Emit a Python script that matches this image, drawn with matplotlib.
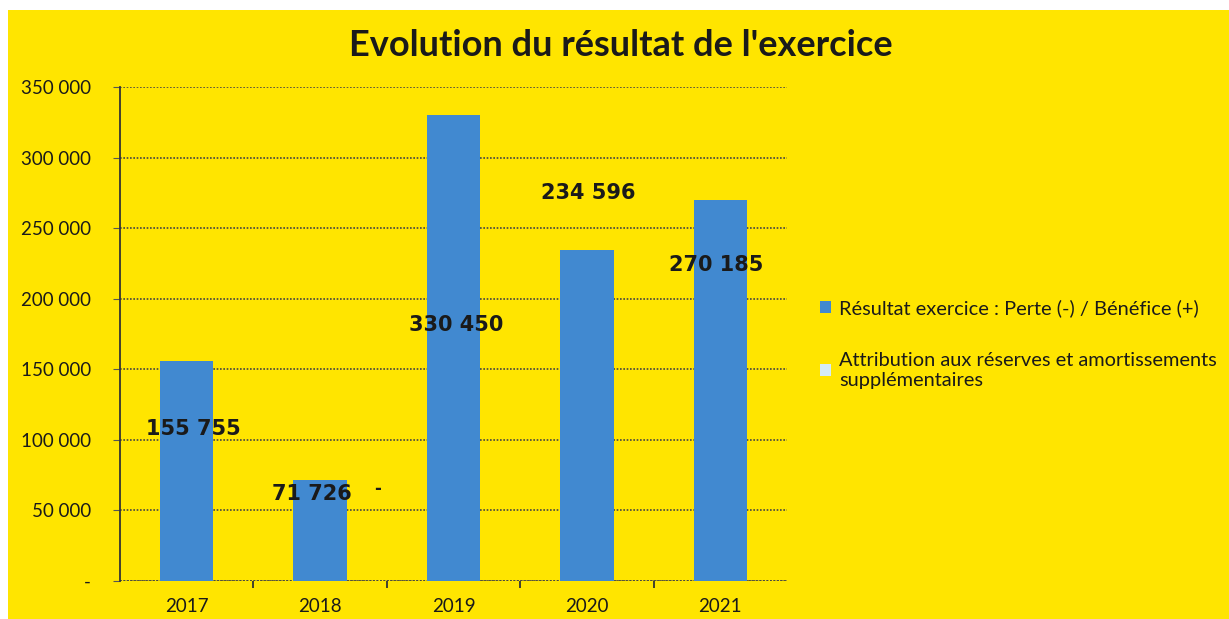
import matplotlib.pyplot as plt
from matplotlib.patches import Rectangle, Patch
from matplotlib.ticker import FuncFormatter, FixedLocator

# données
annees = ['2017', '2018', '2019', '2020', '2021']
resultat = [155755, 71726, 330450, 234596, 270185]
labels_valeurs = ['155 755', '71 726', '330 450', '234 596', '270 185']
serie1 = 'Résultat exercice : Perte (-) / Bénéfice (+)'
serie2 = 'Attribution aux réserves et amortissements\nsupplémentaires'
titre = "Evolution du résultat de l'exercice"

jaune = '#ffe500'
bleu = '#4189d0'
bleu_clair = '#d5ecf7'
noir = '#1a1a1a'

plt.rcParams['font.family'] = ['Lato', 'DejaVu Sans']

fig = plt.figure(figsize=(12.29, 6.19), dpi=100, facecolor=jaune)
# marges blanches du scan, en haut et à gauche
fig.patches.append(Rectangle((0, 1 - 10 / 619), 1, 10 / 619,
                             transform=fig.transFigure, facecolor='white',
                             edgecolor='none', zorder=-10))
fig.patches.append(Rectangle((0, 0), 8 / 1229, 1,
                             transform=fig.transFigure, facecolor='white',
                             edgecolor='none', zorder=-10))

ax = fig.add_axes([120 / 1229, 1 - 581 / 619, 667 / 1229, 494 / 619])
ax.set_facecolor('none')

x = range(len(annees))
ax.bar(x, resultat, width=0.4, color=bleu, zorder=3)

ax.set_xlim(-0.5, len(annees) - 0.5)
ax.set_ylim(0, 350000)
ax.set_yticks(range(0, 350001, 50000))
ax.yaxis.set_major_formatter(FuncFormatter(
    lambda v, p: '-' if v == 0 else f'{int(v):,}'.replace(',', ' ')))
ax.set_xticks(list(x))
ax.set_xticklabels(annees)
ax.xaxis.set_minor_locator(FixedLocator([i + 0.5 for i in range(len(annees) - 1)]))

ax.grid(axis='y', linestyle=(0, (1, 1)), color='#444444', linewidth=1.2, zorder=1)
for s in ['top', 'right', 'bottom']:
    ax.spines[s].set_visible(False)
ax.spines['left'].set_color('#333333')
ax.spines['left'].set_linewidth(1.3)
ax.axhline(0, color='#444444', linestyle=(0, (1, 1)), linewidth=1.3, zorder=2)

ax.tick_params(axis='y', length=5, pad=16, labelsize=13.5, colors=noir,
               color='#555555')
ax.tick_params(axis='x', which='major', length=0, pad=12, labelsize=13.5,
               colors=noir)
ax.tick_params(axis='x', which='minor', length=5, color='#333333', width=1.3)

# étiquettes de valeurs (positions comme dans l'original)
pos_labels = [(0.05, 107700), (0.94, 61600), (2.02, 181400),
              (3.01, 274900), (3.97, 223900)]
for (px, py), txt in zip(pos_labels, labels_valeurs):
    ax.text(px, py, txt, ha='center', va='center', fontsize=15,
            fontweight='bold', family='DejaVu Sans', color=noir, zorder=5)
ax.text(1.43, 65500, '-', ha='center', va='center', fontsize=12,
        fontweight='bold', family='DejaVu Sans', color=noir, zorder=5)

fig.text(0.505, 1 - 46 / 619, titre, ha='center', va='center',
         fontsize=26, fontweight='bold', color=noir)

handles = [Patch(facecolor=bleu, edgecolor='none'),
           Patch(facecolor=bleu_clair, edgecolor='none')]
fig.legend(handles, [serie1, serie2], loc='upper left',
           bbox_to_anchor=(802 / 1229, 1 - 281 / 619), frameon=False,
           fontsize=14.4, handlelength=0.55, handleheight=0.55,
           handletextpad=0.4, labelspacing=1.75, labelcolor=noir)

fig.savefig('out.png', dpi=100, facecolor=fig.get_facecolor())
